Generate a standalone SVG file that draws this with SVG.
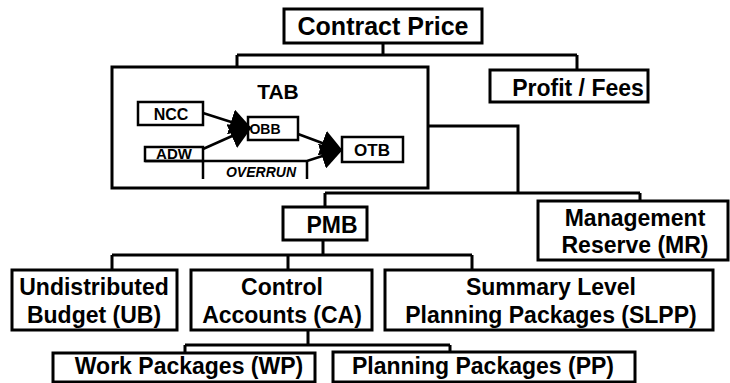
<svg xmlns="http://www.w3.org/2000/svg" width="730" height="383" viewBox="0 0 730 383">
<style>
.box{fill:#fff;stroke:#000;stroke-width:3}
.ibox{fill:#fff;stroke:#000;stroke-width:2.5}
.ln{fill:none;stroke:#000;stroke-width:3}
.iln{fill:none;stroke:#000;stroke-width:2.5}
.t{font-family:"Liberation Sans",Arial,sans-serif;font-weight:bold;font-size:23px;text-anchor:middle;fill:#000}
.s{font-family:"Liberation Sans",Arial,sans-serif;font-weight:bold;text-anchor:middle;fill:#000}
</style>
<defs>
<marker id="ah" viewBox="0 0 22 26" refX="20" refY="13" markerWidth="22" markerHeight="26" markerUnits="userSpaceOnUse" orient="auto"><path d="M0,0 L22,13 L0,26 z" fill="#000"/></marker>
<clipPath id="adwclip"><rect x="145" y="149" width="58" height="12"/></clipPath>
</defs>
<rect width="730" height="383" fill="#fff"/>
<g id="connectors">
<path class="ln" d="M383,43 V55 M237,55 H577 M237,55 V67 M577,55 V70"/>
<path class="ln" d="M428,126 H518 V193 M325,193 H640 M325,193 V207 M640,193 V201"/>
<path class="ln" d="M323,240 V255 M112,255 H472 M112,255 V270 M288,255 V270 M472,255 V270"/>
<path class="ln" d="M308,330 V345 M185,345 H450 M185,345 V353 M450,345 V352"/>
</g>
<g id="contract-price"><rect class="box" x="284" y="9" width="198" height="34"/><text class="t" x="383" y="35" style="font-size:25px">Contract Price</text></g>
<g id="tab">
<rect class="box" x="112" y="67" width="316" height="121"/>
<text class="s" x="278" y="99" font-size="21">TAB</text>
<g id="ncc"><rect class="ibox" x="138" y="102" width="65" height="23"/><text class="s" x="171" y="120" font-size="16">NCC</text></g>
<g id="adw"><rect class="ibox" x="145" y="147" width="58" height="14"/><text class="s" x="174" y="159" font-size="15" clip-path="url(#adwclip)">ADW</text></g>
<g id="obb"><rect class="ibox" x="248" y="117" width="50" height="23"/><text class="s" x="265" y="134" font-size="14">OBB</text></g>
<g id="otb"><rect class="ibox" x="342" y="137" width="61" height="25"/><text class="s" x="372" y="156" font-size="17">OTB</text></g>
<g id="tab-arrows">
<path class="iln" d="M203,113 L250,128" marker-end="url(#ah)"/>
<path class="iln" d="M203,149 L250,128" marker-end="url(#ah)"/>
<path class="iln" d="M298,134 L341,150" marker-end="url(#ah)"/>
<path class="iln" d="M145,161 H307 L341,150" marker-end="url(#ah)"/>
<path class="iln" d="M203,161 V179 M307,161 V179"/>
</g>
<text class="s" x="261" y="177" font-size="14" font-style="italic">OVERRUN</text>
</g>
<g id="profit"><rect class="box" x="490" y="70" width="158" height="32"/><text class="t" x="578" y="96">Profit / Fees</text></g>
<g id="pmb"><rect class="box" x="283" y="207" width="84" height="33"/><text class="t" x="332" y="233">PMB</text></g>
<g id="mr"><rect class="box" x="538" y="201" width="190" height="59"/><text class="t" x="635" y="226">Management</text><text class="t" x="635" y="253">Reserve (MR)</text></g>
<g id="ub"><rect class="box" x="12" y="270" width="165" height="60"/><text class="t" x="94" y="295">Undistributed</text><text class="t" x="94" y="323">Budget (UB)</text></g>
<g id="ca"><rect class="box" x="191" y="270" width="181" height="60"/><text class="t" x="282" y="295">Control</text><text class="t" x="282" y="323">Accounts (CA)</text></g>
<g id="slpp"><rect class="box" x="385" y="270" width="328" height="60"/><text class="t" x="551" y="295">Summary Level</text><text class="t" x="551" y="323">Planning Packages (SLPP)</text></g>
<g id="wp"><rect class="box" x="53" y="353" width="262" height="29"/><text class="t" x="189" y="374">Work Packages (WP)</text></g>
<g id="pp"><rect class="box" x="333" y="352" width="302" height="30"/><text class="t" x="483" y="374">Planning Packages (PP)</text></g>
</svg>
